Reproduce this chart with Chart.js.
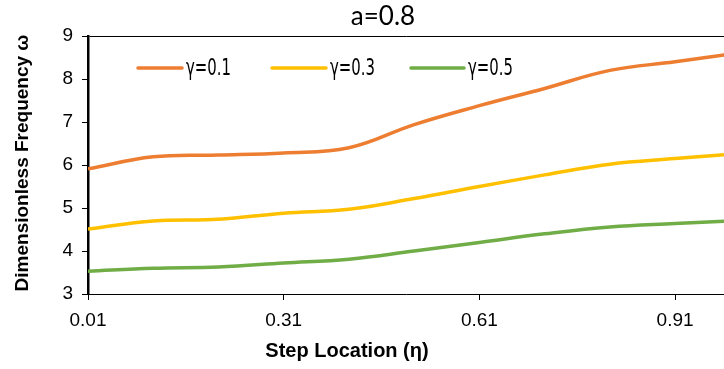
<!DOCTYPE html>
<html>
<head>
<meta charset="utf-8">
<script src="https://cdn.jsdelivr.net/npm/chart.js@4.4.1/dist/chart.umd.min.js"></script>
<style>
  html, body { margin: 0; padding: 0; background: #fff; }
  #wrap { width: 724px; height: 369px; }
</style>
</head>
<body>
<div id="wrap"><canvas id="myChart"></canvas></div>
<script>
// step location (eta)
const eta = [0.01, 0.11, 0.21, 0.31, 0.41, 0.51, 0.61, 0.71, 0.81, 0.91, 1.01];
// dimensionless frequency for each gamma
const gamma01 = [5.91, 6.19, 6.23, 6.28, 6.40, 6.94, 7.38, 7.78, 8.20, 8.40, 8.61];
const gamma03 = [4.51, 4.70, 4.74, 4.88, 4.97, 5.22, 5.50, 5.77, 6.02, 6.15, 6.27];
const gamma05 = [3.53, 3.60, 3.63, 3.72, 3.81, 4.00, 4.20, 4.40, 4.56, 4.64, 4.71];
const seriesNames = ["γ=0.1", "γ=0.3", "γ=0.5"];
const xTicks = [0.01, 0.31, 0.61, 0.91];
const yTicks = [3, 4, 5, 6, 7, 8, 9];

const colors = ["#ED7D31", "#FFC000", "#70AD47"];
const arial = "'Liberation Sans', Arial, sans-serif";

const toPoints = (vals) => vals.map((v, i) => ({ x: eta[i], y: v }));

const datasets = [gamma01, gamma03, gamma05].map((vals, i) => ({
  label: seriesNames[i],
  data: toPoints(vals),
  borderColor: colors[i],
  borderWidth: 3.5,
  pointRadius: 0,
  tension: 0.4,
  fill: false,
}));

// titles and in-plot legend
const decorations = {
  id: "decorations",
  afterDraw(chart) {
    const ctx = chart.ctx;
    ctx.save();
    ctx.fillStyle = "#000";
    ctx.textAlign = "center";
    ctx.textBaseline = "middle";

    ctx.font = "26px Lato, 'Open Sans', sans-serif";
    ctx.fillText("a=0.8", 383, 17);

    ctx.font = "bold 20px " + arial;
    ctx.fillText("Step Location (η)", 347, 351);

    ctx.save();
    ctx.translate(23, 163);
    ctx.rotate(-Math.PI / 2);
    ctx.font = "bold 19px " + arial;
    ctx.fillText("Dimensionless Frequency ω", 0, 0);
    ctx.restore();

    // legend
    const items = [
      { x1: 138, x2: 182 },
      { x1: 272, x2: 326 },
      { x1: 411, x2: 464 },
    ];
    items.forEach((it, i) => {
      ctx.strokeStyle = colors[i];
      ctx.lineWidth = 3.5;
      ctx.lineCap = "round";
      ctx.beginPath();
      ctx.moveTo(it.x1, 68);
      ctx.lineTo(it.x2, 68);
      ctx.stroke();

      ctx.save();
      ctx.translate(it.x2 + 4, 69);
      ctx.scale(0.72, 1);
      ctx.textAlign = "left";
      ctx.fillStyle = "#000";
      ctx.font = "23px 'DejaVu Sans Condensed', 'Liberation Sans Narrow', sans-serif";
      ctx.fillText(seriesNames[i], 0, 0);
      ctx.restore();
    });
    ctx.restore();
  },
};

const config = {
  type: "line",
  data: { datasets },
  options: {
    responsive: true,
    maintainAspectRatio: false,
    animation: false,
    layout: { padding: { top: 36, right: 0, left: 0, bottom: 0 } },
    plugins: {
      legend: { display: false },
      title: { display: false },
      tooltip: { enabled: false },
    },
    scales: {
      x: {
        type: "linear",
        min: 0.01,
        max: 0.985,
        afterBuildTicks: (scale) => {
          scale.ticks = xTicks.map((v) => ({ value: v }));
        },
        afterFit: (scale) => {
          scale.height = 75;
        },
        border: { display: true, color: "#000", width: 1 },
        grid: {
          display: true,
          drawOnChartArea: false,
          drawTicks: true,
          tickLength: 6,
          color: "#000",
        },
        ticks: {
          autoSkip: false,
          maxRotation: 0,
          padding: 9,
          color: "#000",
          font: { family: arial, size: 19 },
          callback: (v) => v.toFixed(2),
        },
      },
      y: {
        min: 3,
        max: 9,
        afterBuildTicks: (scale) => {
          scale.ticks = yTicks.map((v) => ({ value: v }));
        },
        afterFit: (scale) => {
          scale.width = 88;
        },
        border: { display: true, color: "#000", width: 2.5 },
        grid: {
          display: true,
          drawOnChartArea: true,
          drawTicks: true,
          tickLength: 6,
          color: (c) => (c.tick && c.tick.value === 9 ? "#000" : "rgba(0,0,0,0)"),
          tickColor: "#000",
        },
        ticks: {
          padding: 9,
          color: "#000",
          font: { family: arial, size: 19 },
        },
      },
    },
  },
  plugins: [decorations],
};

const myChart = document.getElementById("myChart");
const graphic = new Chart(myChart, config);
</script>
</body>
</html>
